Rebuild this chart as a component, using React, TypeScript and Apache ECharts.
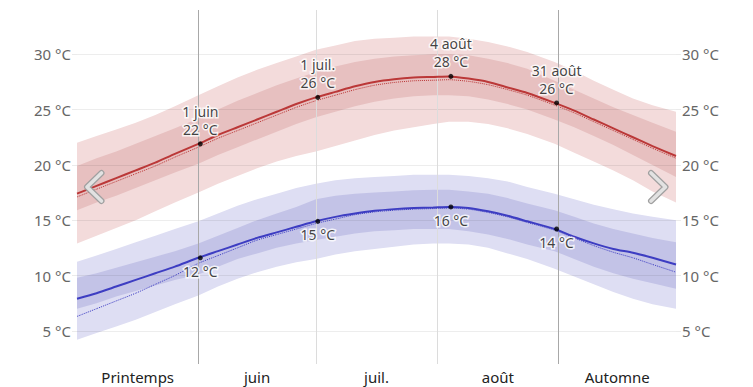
import React, { useEffect, useRef } from "react";
import * as echarts from "echarts";

// day index: 0 = 1 May, 153 = 1 October
const days = [0, 5, 10, 15, 20, 25, 31, 36, 41, 46, 51, 56, 61, 66, 71, 76, 81, 86, 91, 95, 100, 105, 110, 115, 122, 127, 132, 137, 142, 147, 153];

const highP90 = [22.0, 22.6, 23.2, 23.8, 24.5, 25.3, 26.3, 27.1, 27.9, 28.6, 29.2, 29.8, 30.4, 30.8, 31.2, 31.4, 31.5, 31.6, 31.6, 31.6, 31.4, 31.1, 30.7, 30.2, 29.3, 28.5, 27.6, 26.8, 26.0, 25.4, 24.8];
const highP75 = [19.9, 20.6, 21.2, 21.9, 22.6, 23.3, 24.2, 25.0, 25.8, 26.5, 27.2, 27.8, 28.4, 28.9, 29.3, 29.6, 29.8, 29.9, 30.0, 30.0, 29.9, 29.6, 29.2, 28.7, 27.6, 26.8, 26.0, 25.2, 24.5, 23.8, 23.0];
const highMean = [17.4, 18.1, 18.8, 19.5, 20.2, 21.0, 21.9, 22.7, 23.4, 24.1, 24.8, 25.5, 26.1, 26.6, 27.1, 27.5, 27.75, 27.9, 27.95, 28.0, 27.8, 27.5, 27.0, 26.5, 25.6, 24.9, 24.1, 23.3, 22.5, 21.7, 20.8];
const highAlt = [17.1, 17.8, 18.5, 19.2, 19.9, 20.7, 21.6, 22.4, 23.1, 23.8, 24.5, 25.2, 25.8, 26.3, 26.8, 27.2, 27.45, 27.6, 27.65, 27.7, 27.55, 27.25, 26.8, 26.3, 25.4, 24.7, 23.9, 23.1, 22.3, 21.5, 20.6];
const highP25 = [15.9, 16.6, 17.2, 17.9, 18.6, 19.3, 20.1, 20.9, 21.6, 22.3, 23.0, 23.7, 24.3, 24.8, 25.3, 25.7, 26.0, 26.2, 26.3, 26.3, 26.2, 25.9, 25.5, 25.0, 24.1, 23.4, 22.6, 21.8, 20.9, 20.0, 18.9];
const highP10 = [12.9, 13.6, 14.3, 15.0, 15.8, 16.6, 17.5, 18.3, 19.0, 19.7, 20.3, 20.8, 21.2, 21.7, 22.2, 22.7, 23.1, 23.4, 23.7, 23.9, 23.9, 23.7, 23.3, 22.8, 21.9, 21.1, 20.3, 19.5, 18.6, 17.6, 16.6];

const lowP90 = [11.25, 11.8, 12.4, 13.0, 13.6, 14.2, 14.9, 15.6, 16.3, 16.9, 17.4, 17.9, 18.3, 18.6, 18.8, 18.9, 19.0, 19.1, 19.1, 19.1, 19.0, 18.8, 18.5, 18.0, 17.4, 16.9, 16.4, 16.0, 15.6, 15.3, 15.0];
const lowP75 = [9.8, 10.2, 10.7, 11.2, 11.7, 12.2, 12.9, 13.6, 14.3, 15.0, 15.6, 16.2, 16.9, 17.2, 17.4, 17.5, 17.6, 17.7, 17.75, 17.75, 17.6, 17.4, 17.0, 16.5, 15.9, 15.3, 14.7, 14.2, 13.8, 13.4, 13.0];
const lowMean = [7.9, 8.4, 9.0, 9.6, 10.2, 10.8, 11.6, 12.2, 12.8, 13.4, 13.9, 14.4, 14.9, 15.3, 15.6, 15.85, 16.0, 16.1, 16.15, 16.2, 16.1, 15.8, 15.4, 14.9, 14.2, 13.5, 12.9, 12.4, 12.05, 11.6, 11.0];
const lowAlt = [6.3, 7.0, 7.7, 8.4, 9.2, 10.0, 11.1, 11.8, 12.5, 13.2, 13.7, 14.2, 14.7, 15.1, 15.5, 15.75, 15.9, 16.0, 16.05, 16.1, 16.0, 15.7, 15.3, 14.8, 14.1, 13.4, 12.7, 12.1, 11.6, 11.0, 10.3];
const lowP25 = [7.0, 7.5, 8.1, 8.6, 9.1, 9.6, 10.1, 10.8, 11.5, 12.0, 12.5, 12.9, 13.2, 13.5, 13.8, 14.0, 14.1, 14.2, 14.2, 14.2, 14.0, 13.7, 13.3, 12.8, 12.2, 11.5, 10.8, 10.2, 9.7, 9.3, 8.8];
const lowP10 = [4.2, 4.8, 5.4, 6.0, 6.7, 7.4, 8.2, 9.0, 9.7, 10.3, 10.8, 11.2, 11.5, 11.9, 12.2, 12.4, 12.6, 12.8, 12.9, 12.9, 12.8, 12.5, 12.0, 11.5, 10.6, 9.9, 9.2, 8.5, 7.9, 7.4, 7.0];

const keyDays = [31.5, 61.5, 95.5, 122.5];
const keyDates = ["1 juin", "1 juil.", "4 août", "31 août"];
const keyHigh = [21.9, 26.1, 28.0, 25.6];
const keyLow = [11.6, 14.9, 16.2, 14.2];

const yTicks = [5, 10, 15, 20, 25, 30];
const xLabelDays = [15.5, 46, 76.5, 107.5, 138];
const xLabels = ["Printemps", "juin", "juil.", "août", "Automne"];
const seasonLines = [31, 123];
const monthLines = [61, 92];

const PINK_LIGHT = "#f3dbdb";
const PINK_DARK = "#e7c0c0";
const RED = "#bb3838";
const BLUE_LIGHT = "#dedef3";
const BLUE_DARK = "#c3c3e7";
const BLUE = "#3d3dc2";

const pts = (vals: number[]) => days.map((d, i) => [d, vals[i]]);

function band(lower: number[], upper: number[], color: string) {
  return {
    type: "custom",
    silent: true,
    z: 1,
    data: [[days[0], lower[0]]],
    renderItem: (_params: any, api: any) => {
      const top = days.map((d, i) => api.coord([d, upper[i]]));
      const bot = days.map((d, i) => api.coord([d, lower[i]])).reverse();
      return {
        type: "polygon",
        shape: { points: [...top, ...bot] },
        style: { fill: color, stroke: null },
      };
    },
  };
}

export default function App() {
  const ref = useRef<HTMLDivElement>(null);
  useEffect(() => {
    if (!ref.current) return;
    const chart = echarts.init(ref.current, undefined, { renderer: "svg" });
    const yAxisBase = {
      type: "value",
      min: 2,
      max: 34,
      splitLine: { show: false },
      axisLine: { show: false },
      axisTick: { show: true, customValues: yTicks, length: 5, lineStyle: { color: "#ebebeb" } },
      axisLabel: {
        customValues: yTicks,
        formatter: (v: number) => `${v} °C`,
        color: "#666",
        fontSize: 15,
        margin: 6,
      },
    };
    const chevron = (points: number[][]) => [
      {
        type: "polyline",
        shape: { points },
        style: { stroke: "#a0a0a0", lineWidth: 6, lineCap: "round", lineJoin: "round", fill: null },
        z: 100,
      },
      {
        type: "polyline",
        shape: { points },
        style: { stroke: "#e2e2e2", lineWidth: 3.6, lineCap: "round", lineJoin: "round", fill: null },
        z: 101,
      },
    ];
    const labelStyle = {
      show: true,
      distance: 3,
      color: "#111",
      fontSize: 14,
      lineHeight: 18,
      textBorderColor: "#fff",
      textBorderWidth: 3,
    };
    chart.setOption({
      animation: false,
      textStyle: { fontFamily: "Noto Sans" },
      grid: { left: 77, right: 77, top: 10, bottom: 23 },
      xAxis: {
        type: "value",
        min: 0,
        max: 153,
        splitLine: { show: false },
        axisLine: { show: false },
        axisTick: { show: false },
        axisLabel: {
          customValues: xLabelDays,
          formatter: (v: number) => xLabels[xLabelDays.indexOf(v)] ?? "",
          color: "#222",
          fontSize: 15,
          margin: 5,
        },
      },
      yAxis: [
        { ...yAxisBase, position: "left" },
        { ...yAxisBase, position: "right" },
      ],
      graphic: [
        ...chevron([[101.5, 173], [87, 187], [101.5, 201]]),
        ...chevron([[651, 173], [665.5, 187], [651, 201]]),
      ],
      series: [
        band(highP10, highP90, PINK_LIGHT),
        band(highP25, highP75, PINK_DARK),
        band(lowP10, lowP90, BLUE_LIGHT),
        band(lowP25, lowP75, BLUE_DARK),
        {
          type: "line",
          data: [],
          silent: true,
          z: 3,
          markLine: {
            silent: true,
            symbol: "none",
            label: { show: false },
            data: [
              ...yTicks.map((v) => ({ yAxis: v, lineStyle: { color: "rgba(0,0,0,0.07)", width: 1, type: "solid" } })),
              ...seasonLines.map((v) => ({ xAxis: v, lineStyle: { color: "#a8a8a8", width: 1, type: "solid" } })),
              ...monthLines.map((v) => ({ xAxis: v, lineStyle: { color: "#dcdcdc", width: 1, type: "solid" } })),
            ],
          },
        },
        {
          type: "line",
          data: pts(highAlt),
          symbol: "none",
          smooth: 0.2,
          silent: true,
          lineStyle: { color: RED, width: 1, type: "dotted" },
          z: 4,
        },
        {
          type: "line",
          data: pts(highMean),
          symbol: "none",
          smooth: 0.2,
          silent: true,
          lineStyle: { color: RED, width: 2 },
          z: 5,
        },
        {
          type: "line",
          data: pts(lowAlt),
          symbol: "none",
          smooth: 0.2,
          silent: true,
          lineStyle: { color: BLUE, width: 1, type: "dotted" },
          z: 4,
        },
        {
          type: "line",
          data: pts(lowMean),
          symbol: "none",
          smooth: 0.2,
          silent: true,
          lineStyle: { color: BLUE, width: 2 },
          z: 5,
        },
        {
          type: "scatter",
          data: keyDays.map((d, i) => [d, keyHigh[i]]),
          symbolSize: 5,
          itemStyle: { color: "#000" },
          silent: true,
          z: 10,
          label: {
            ...labelStyle,
            position: "top",
            formatter: (p: any) => `${keyDates[p.dataIndex]}\n${Math.round(keyHigh[p.dataIndex])} °C`,
          },
        },
        {
          type: "scatter",
          data: keyDays.map((d, i) => [d, keyLow[i]]),
          symbolSize: 5,
          itemStyle: { color: "#000" },
          silent: true,
          z: 10,
          label: {
            ...labelStyle,
            position: "bottom",
            distance: 2,
            formatter: (p: any) => `${Math.round(keyLow[p.dataIndex])} °C`,
          },
        },
      ],
    });
    return () => chart.dispose();
  }, []);
  return <div ref={ref} style={{ position: "absolute", left: 0, top: 0, width: 753, height: 387 }} />;
}
